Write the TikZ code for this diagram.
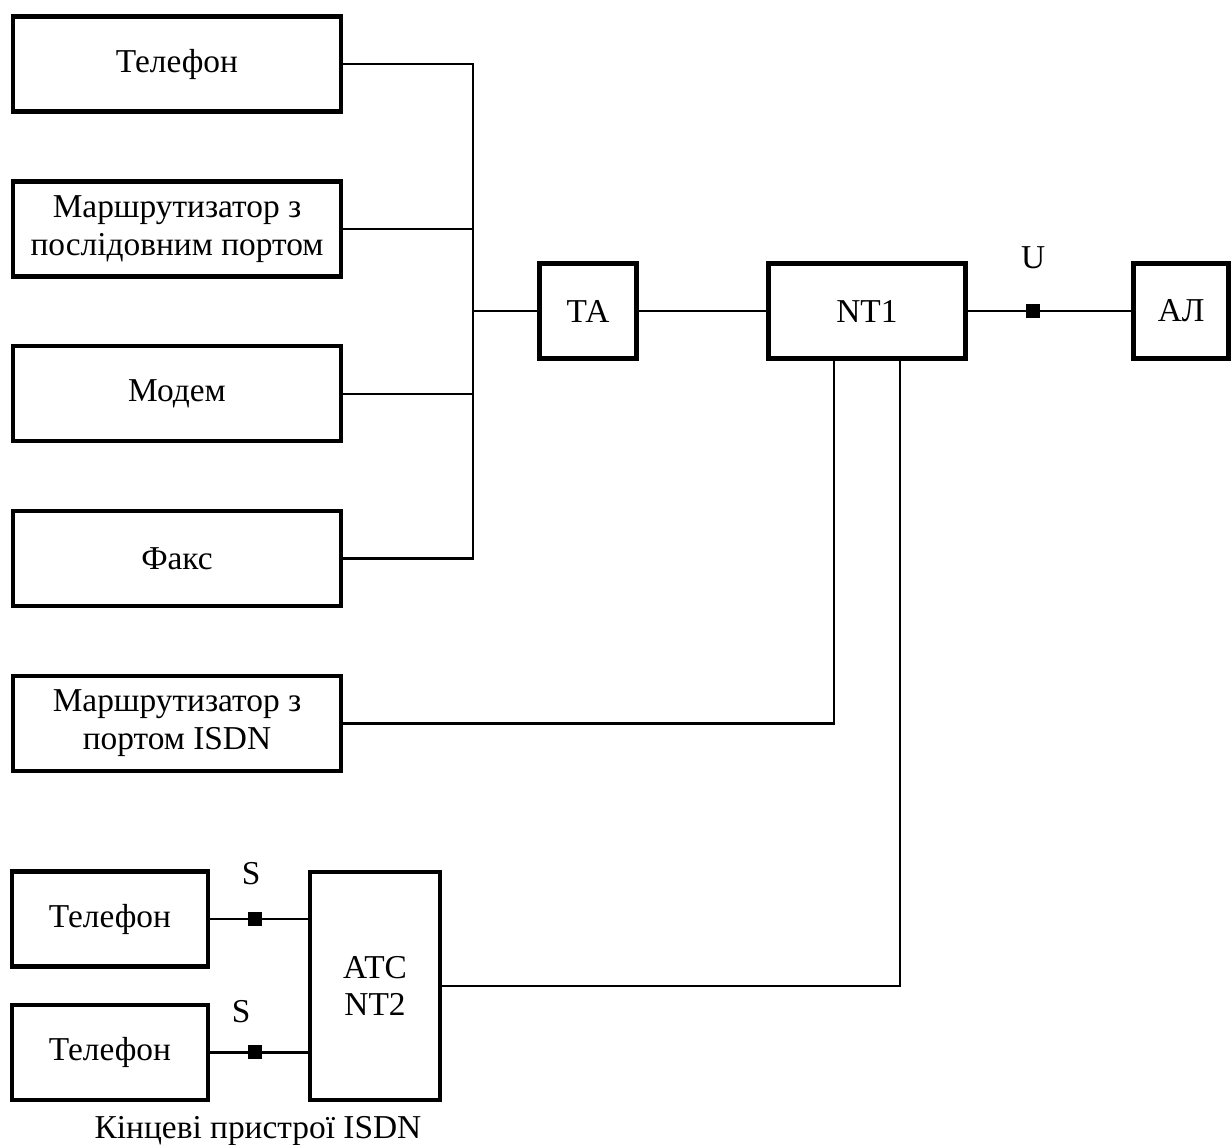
\documentclass[tikz,border=0pt]{standalone}
\usepackage{fontspec}
\setmainfont{Liberation Serif}
\usetikzlibrary{positioning}

\tikzset{
  block/.style={draw, line width=2.5pt, inner sep=0pt, align=center, minimum height=1.9cm},
  wide/.style={block, minimum width=6.55cm},
  point/.style={fill, inner sep=0pt, minimum size=0.28cm},
  wire/.style={line width=1.3pt}
}

\begin{document}
\begin{tikzpicture}[x=0.02cm, y=-0.02cm, font=\fontsize{19}{21.5}\selectfont, node distance=1.31cm]
\useasboundingbox (0,0) rectangle (1231,1144);

% terminals on the left
\node[wide] (tel) at (177,64) {Телефон};
\node[wide] (rs) [below=of tel] {Маршрутизатор з\\послідовним портом};
\node[wide] (modem) [below=of rs] {Модем};
\node[wide] (fax) [below=of modem] {Факс};
\node[wide] (risdn) [below=of fax] {Маршрутизатор з\\портом ISDN};

% main line
\coordinate (bus) at (473,311);
\node[block, minimum width=1.94cm] (ta) at (588,311) {ТА};
\node[block, minimum width=3.94cm] (nt1) [right=2.55cm of ta] {NT1};
\node[block, minimum width=1.9cm] (al) [right=3.28cm of nt1] {АЛ};

% ISDN terminals
\node[block, minimum width=3.92cm] (ph1) at (110,919) {Телефон};
\node[block, minimum width=3.92cm] (ph2) [below=0.68cm of ph1] {Телефон};
\node[block, minimum width=2.6cm, minimum height=4.55cm] (atc) at (375,986) {АТС\\NT2};
\node (cap) at (258,1131) {Кінцеві пристрої ISDN};

\draw[wire] (tel.east) -- (tel.east -| bus) -- (fax.east -| bus) -- (fax.east);
\draw[wire] (rs.east) -- (rs.east -| bus);
\draw[wire] (modem.east) -- (modem.east -| bus);
\draw[wire] (bus) -- (ta) -- (nt1);
\draw[wire] (nt1) -- node[point, pos=0.4] (u) {} (al);
\node (lu) [above=0.55cm of u] {U};

\draw[wire] (risdn.east) -| ([xshift=-0.65cm]nt1.south);
\draw[wire] (atc.east) -| ([xshift=0.67cm]nt1.south);

\draw[wire] (ph1.east) -- node[point, pos=0.46] (s1) {} (ph1.east -| atc.west);
\draw[wire] (ph2.east) -- node[point, pos=0.46] (s2) {} (ph2.east -| atc.west);
\node (ls1) [above=0.4cm of s1, xshift=-0.08cm] {S};
\node (ls2) [above=0.3cm of s2, xshift=-0.28cm] {S};
\end{tikzpicture}
\end{document}
